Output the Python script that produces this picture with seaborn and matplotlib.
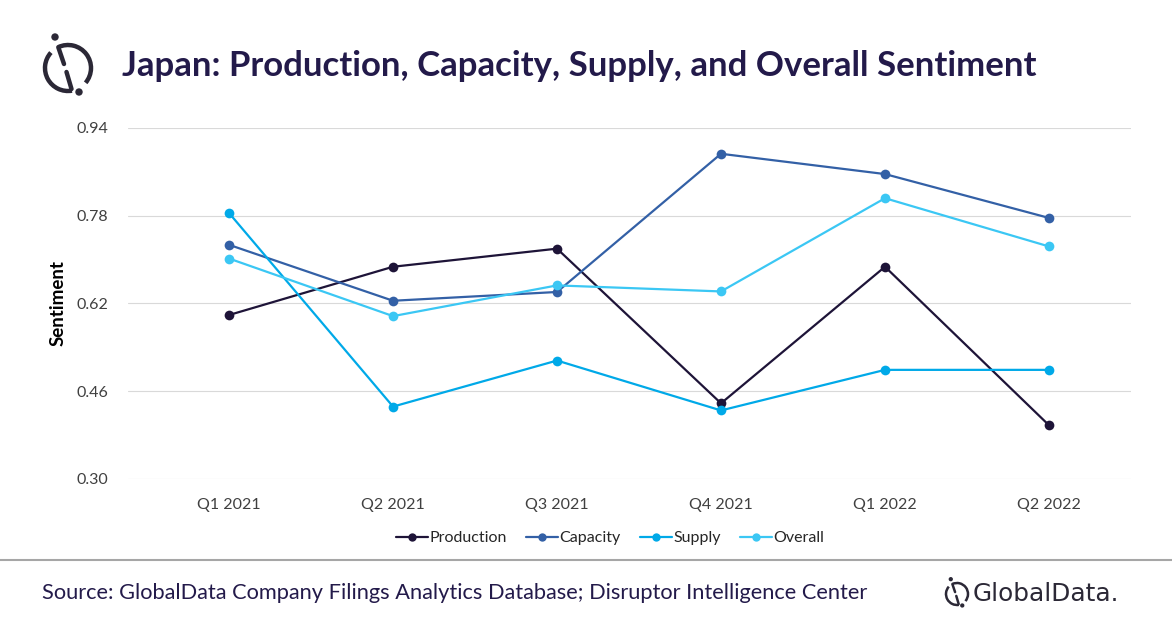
import pandas as pd
import numpy as np
import matplotlib
matplotlib.use("Agg")
import matplotlib.pyplot as plt
from matplotlib.lines import Line2D
from matplotlib.patches import Arc, Circle
import seaborn as sns

# data
quarters = ["Q1 2021", "Q2 2021", "Q3 2021", "Q4 2021", "Q1 2022", "Q2 2022"]
production = [0.599, 0.687, 0.720, 0.438, 0.687, 0.398]
capacity = [0.727, 0.625, 0.641, 0.893, 0.856, 0.776]
supply = [0.785, 0.432, 0.516, 0.425, 0.499, 0.499]
overall = [0.702, 0.597, 0.653, 0.642, 0.812, 0.724]
series_names = ["Production", "Capacity", "Supply", "Overall"]
y_ticks = [0.30, 0.46, 0.62, 0.78, 0.94]

colors = ["#1e1438", "#3360a6", "#00a9e8", "#3bc7f4"]
title_color = "#231a4a"

df = pd.DataFrame({
    "Quarter": quarters * 4,
    "Sentiment": production + capacity + supply + overall,
    "Series": [s for s in series_names for _ in quarters],
})

sns.set_theme(style="white")
plt.rcParams["font.family"] = ["Lato", "DejaVu Sans"]

fig = plt.figure(figsize=(11.72, 6.28), dpi=100)
W, H = 1172, 628
ax = fig.add_axes([128 / W, 1 - 479 / H, (1131 - 128) / W, (479 - 128) / H])

sns.lineplot(data=df, x="Quarter", y="Sentiment", hue="Series",
             hue_order=series_names, palette=colors, marker="o",
             markersize=7, markeredgewidth=0, linewidth=1.6,
             sort=False, legend=False, ax=ax)

ax.set_xlim(-0.616, 5.5)
ax.set_ylim(0.30, 0.94)
ax.set_yticks(y_ticks)
ax.set_yticklabels([f"{t:.2f}" for t in y_ticks])
ax.yaxis.grid(True, color="#d9d9d9", linewidth=0.8)
ax.xaxis.grid(False)
for sp in ax.spines.values():
    sp.set_visible(False)
ax.tick_params(axis="both", length=0, labelsize=11.5, colors="#404040")
ax.tick_params(axis="y", pad=14)
ax.tick_params(axis="x", pad=14)
ax.set_xlabel("")
ax.set_ylabel("Sentiment", fontsize=13.5, fontweight="bold", color="#000000")
ax.yaxis.set_label_coords(-0.061, 0.5)

handles = [Line2D([0], [0], color=c, marker="o", markersize=6,
                  markeredgewidth=0, linewidth=1.6) for c in colors]
fig.legend(handles, series_names, loc="center", ncol=4, frameon=False,
           bbox_to_anchor=(610 / W, 1 - 538 / H), fontsize=11.5,
           handlelength=2.0, handletextpad=0.1, columnspacing=1.2,
           labelcolor="#262626")

# overlay for title, logo, footer (pixel coords, y down)
ov = fig.add_axes([0, 0, 1, 1], zorder=-1)
ov.set_xlim(0, W)
ov.set_ylim(H, 0)
ov.axis("off")

ov.text(122, 66, "Japan: Production, Capacity, Supply, and Overall Sentiment",
        fontsize=25, fontweight="bold", color=title_color, va="center",
        ha="left")

lc = "#2b2836"


def draw_logo(cx, cy, r, lw):
    s = r / 23.0
    ov.add_patch(Arc((cx, cy), 2 * r, 2 * r, theta1=245, theta2=40, color=lc, lw=lw))
    ov.add_patch(Arc((cx, cy), 2 * r, 2 * r, theta1=80, theta2=222, color=lc, lw=lw))
    ov.plot([cx - 9.7 * s, cx - 4 * s], [cy - 20.8 * s, cy - 4 * s], color=lc, lw=lw,
            solid_capstyle="round")
    ov.plot([cx - 1.5 * s, cx + 3.5 * s], [cy + 4 * s, cy + 21 * s], color=lc, lw=lw,
            solid_capstyle="round")
    ov.add_patch(Circle((cx - 13 * s, cy - 31 * s), 3.0 * s, color=lc))
    ov.add_patch(Circle((cx + 11 * s, cy + 24 * s), 3.0 * s, color=lc))


draw_logo(68, 68, 23, 3.2)

# footer
ov.plot([0, W], [560, 560], color="#a6a6a6", lw=1.5)
ov.text(42, 593, "Source: GlobalData Company Filings Analytics Database; Disruptor Intelligence Center",
        fontsize=15.7, color=title_color, va="center", ha="left")

draw_logo(957, 594, 11, 1.8)
ov.text(973, 594, "GlobalData.", fontsize=17.8, color=lc, va="center",
        ha="left", family="DejaVu Sans")

fig.savefig("out.png", dpi=100, facecolor="white")
